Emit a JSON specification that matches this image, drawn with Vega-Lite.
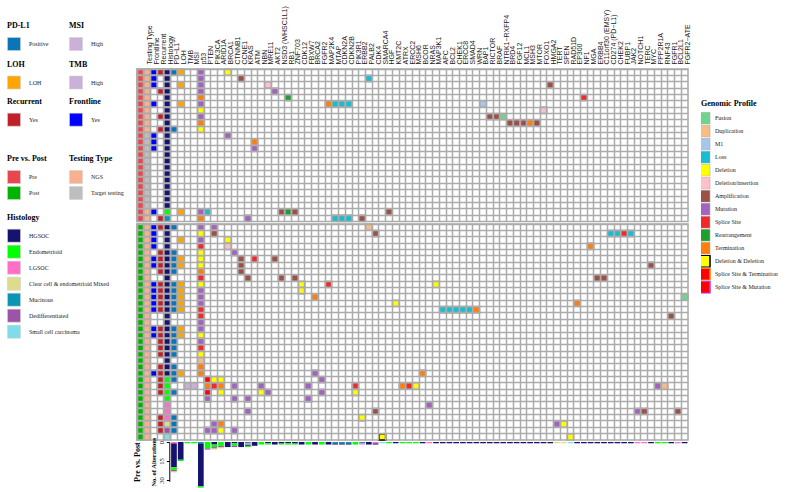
{
"$schema": "https://vega.github.io/schema/vega-lite/v6.json",
"padding": {"left": 6, "top": 4, "right": 2, "bottom": 0},
"bounds": "flush",
"spacing": 2,
"background": "white",
"config": {
  "view": {"stroke": "#ababab", "strokeWidth": 1.5},
  "legend": {"titleFont": "Liberation Serif", "titleFontWeight": "bold", "titleFontSize": 8, "titleColor": "#000", "labelFont": "Liberation Serif", "labelFontSize": 6, "labelColor": "#222", "symbolType": "square", "symbolSize": 169, "symbolStrokeColor": "#d0d0d0", "symbolStrokeWidth": 0.6, "rowPadding": 0, "labelOffset": 8, "titlePadding": 7, "orient": "none", "padding": 0, "direction": "vertical"}
},
"datasets": {
"pts": [
{"p":"P01","PrePost":"Pre","Testing Type":"NGS","Frontline":"Yes","Recurrent":"Yes","Histology":"HGSOC"},
{"p":"P02","PrePost":"Pre","Testing Type":"NGS","Frontline":"Yes","Histology":"HGSOC"},
{"p":"P03","PrePost":"Pre","Testing Type":"NGS","Frontline":"Yes","Histology":"HGSOC"},
{"p":"P04","PrePost":"Pre","Testing Type":"NGS","Recurrent":"Yes","Histology":"HGSOC"},
{"p":"P05","PrePost":"Pre","Testing Type":"NGS","Histology":"HGSOC"},
{"p":"P06","PrePost":"Pre","Testing Type":"NGS","Frontline":"Yes","Histology":"HGSOC"},
{"p":"P07","PrePost":"Pre","Testing Type":"NGS","Histology":"HGSOC"},
{"p":"P08","PrePost":"Pre","Testing Type":"NGS","Recurrent":"Yes","Histology":"HGSOC"},
{"p":"P09","PrePost":"Pre","Testing Type":"NGS","Histology":"HGSOC"},
{"p":"P10","PrePost":"Pre","Testing Type":"NGS","Recurrent":"Yes","Histology":"HGSOC"},
{"p":"P11","PrePost":"Pre","Testing Type":"Target testing","Frontline":"Yes","Histology":"HGSOC"},
{"p":"P12","PrePost":"Pre","Testing Type":"Target testing","Frontline":"Yes","Histology":"HGSOC"},
{"p":"P13","PrePost":"Pre","Testing Type":"Target testing","Frontline":"Yes","Histology":"HGSOC"},
{"p":"P14","PrePost":"Pre","Testing Type":"Target testing","Histology":"HGSOC"},
{"p":"P15","PrePost":"Pre","Testing Type":"Target testing","Histology":"HGSOC"},
{"p":"P16","PrePost":"Pre","Testing Type":"Target testing","Histology":"HGSOC"},
{"p":"P17","PrePost":"Pre","Testing Type":"Target testing","Histology":"HGSOC"},
{"p":"P18","PrePost":"Pre","Testing Type":"Target testing","Histology":"HGSOC"},
{"p":"P19","PrePost":"Pre","Testing Type":"Target testing","Histology":"HGSOC"},
{"p":"P20","PrePost":"Pre","Testing Type":"Target testing","Histology":"HGSOC"},
{"p":"P21","PrePost":"Pre","Testing Type":"Target testing","Histology":"HGSOC"},
{"p":"P22","PrePost":"Pre","Testing Type":"Target testing","Histology":"HGSOC"},
{"p":"P23","PrePost":"Pre","Testing Type":"NGS","Frontline":"Yes","Histology":"Endometrioid"},
{"p":"P24","PrePost":"Pre","Testing Type":"NGS","Recurrent":"Yes","Histology":"Mucinous"},
{"p":"Q01","PrePost":"Post","Testing Type":"NGS","Frontline":"Yes","Recurrent":"Yes","Histology":"HGSOC"},
{"p":"Q02","PrePost":"Post","Testing Type":"NGS","Frontline":"Yes","Histology":"HGSOC"},
{"p":"Q03","PrePost":"Post","Testing Type":"NGS","Frontline":"Yes","Histology":"HGSOC"},
{"p":"Q04","PrePost":"Post","Testing Type":"NGS","Frontline":"Yes","Histology":"HGSOC"},
{"p":"Q05","PrePost":"Post","Testing Type":"NGS","Recurrent":"Yes","Histology":"HGSOC"},
{"p":"Q06","PrePost":"Post","Testing Type":"NGS","Frontline":"Yes","Recurrent":"Yes","Histology":"HGSOC"},
{"p":"Q07","PrePost":"Post","Testing Type":"NGS","Frontline":"Yes","Recurrent":"Yes","Histology":"HGSOC"},
{"p":"Q08","PrePost":"Post","Testing Type":"NGS","Recurrent":"Yes","Histology":"HGSOC"},
{"p":"Q09","PrePost":"Post","Testing Type":"NGS","Histology":"HGSOC"},
{"p":"Q10","PrePost":"Post","Testing Type":"NGS","Frontline":"Yes","Recurrent":"Yes","Histology":"HGSOC"},
{"p":"Q11","PrePost":"Post","Testing Type":"NGS","Frontline":"Yes","Recurrent":"Yes","Histology":"HGSOC"},
{"p":"Q12","PrePost":"Post","Testing Type":"NGS","Frontline":"Yes","Recurrent":"Yes","Histology":"HGSOC"},
{"p":"Q13","PrePost":"Post","Testing Type":"NGS","Frontline":"Yes","Recurrent":"Yes","Histology":"HGSOC"},
{"p":"Q14","PrePost":"Post","Testing Type":"NGS","Frontline":"Yes","Recurrent":"Yes","Histology":"HGSOC"},
{"p":"Q15","PrePost":"Post","Testing Type":"NGS","Histology":"HGSOC"},
{"p":"Q16","PrePost":"Post","Testing Type":"NGS","Histology":"HGSOC"},
{"p":"Q17","PrePost":"Post","Testing Type":"NGS","Frontline":"Yes","Recurrent":"Yes","Histology":"HGSOC"},
{"p":"Q18","PrePost":"Post","Testing Type":"NGS","Frontline":"Yes","Recurrent":"Yes","Histology":"HGSOC"},
{"p":"Q19","PrePost":"Post","Testing Type":"NGS","Recurrent":"Yes","Histology":"HGSOC"},
{"p":"Q20","PrePost":"Post","Testing Type":"NGS","Recurrent":"Yes","Histology":"HGSOC"},
{"p":"Q21","PrePost":"Post","Testing Type":"NGS","Recurrent":"Yes","Histology":"HGSOC"},
{"p":"Q22","PrePost":"Post","Testing Type":"NGS","Histology":"HGSOC"},
{"p":"Q23","PrePost":"Post","Testing Type":"NGS","Recurrent":"Yes","Histology":"HGSOC"},
{"p":"Q24","PrePost":"Post","Testing Type":"NGS","Frontline":"Yes","Recurrent":"Yes","Histology":"HGSOC"},
{"p":"Q25","PrePost":"Post","Testing Type":"NGS","Recurrent":"Yes","Histology":"Endometrioid"},
{"p":"Q26","PrePost":"Post","Testing Type":"NGS","Recurrent":"Yes","Histology":"Endometrioid"},
{"p":"Q27","PrePost":"Post","Testing Type":"NGS","Recurrent":"Yes","Histology":"Endometrioid"},
{"p":"Q28","PrePost":"Post","Testing Type":"NGS","Histology":"Endometrioid"},
{"p":"Q29","PrePost":"Post","Testing Type":"NGS","Histology":"LGSOC"},
{"p":"Q30","PrePost":"Post","Testing Type":"NGS","Histology":"LGSOC"},
{"p":"Q31","PrePost":"Post","Testing Type":"NGS","Recurrent":"Yes","Histology":"LGSOC"},
{"p":"Q32","PrePost":"Post","Testing Type":"NGS","Recurrent":"Yes","Histology":"Clear cell & endometrioid Mixed"},
{"p":"Q33","PrePost":"Post","Testing Type":"NGS","Recurrent":"Yes","Histology":"Dedifferentiated"},
{"p":"Q34","PrePost":"Post","Testing Type":"NGS","Histology":"Small cell carcinoma"}
],
"alt": [
{"p":"P01","g":"PD−L1","t":"Positive"},{"p":"P01","g":"LOH","t":"LOH"},{"p":"P01","g":"p53","t":"Mutation"},{"p":"P01","g":"BRCA1","t":"Deletion"},
{"p":"P02","g":"p53","t":"Mutation"},{"p":"P02","g":"CCNE1","t":"Amplification"},{"p":"P02","g":"PALB2","t":"Loss"},
{"p":"P03","g":"LOH","t":"LOH"},{"p":"P03","g":"p53","t":"Mutation"},{"p":"P03","g":"MRE11","t":"Deletion/insertion"},{"p":"P03","g":"HMGA2","t":"Amplification"},
{"p":"P04","g":"p53","t":"Mutation"},{"p":"P04","g":"AKT2","t":"Mutation"},
{"p":"P05","g":"p53","t":"Termination"},{"p":"P05","g":"RB1","t":"Rearrangement"},{"p":"P05","g":"NF1","t":"Splice Site"},
{"p":"P06","g":"LOH","t":"LOH"},{"p":"P06","g":"p53","t":"Mutation"},{"p":"P06","g":"MAP2K4","t":"Termination"},{"p":"P06","g":"MTAP","t":"Loss"},{"p":"P06","g":"CDKN2A","t":"Loss"},{"p":"P06","g":"CDKN2B","t":"Loss"},{"p":"P06","g":"BAP1","t":"M1"},
{"p":"P07","g":"p53","t":"Deletion"},{"p":"P07","g":"FOXO1","t":"Deletion/insertion"},
{"p":"P08","g":"p53","t":"Mutation"},{"p":"P08","g":"RICTOR","t":"Amplification"},{"p":"P08","g":"BRAF","t":"Amplification"},{"p":"P08","g":"NTRK1−RXFP4","t":"Fusion"},
{"p":"P09","g":"p53","t":"Termination"},{"p":"P09","g":"BRD4","t":"Amplification"},{"p":"P09","g":"FGF12","t":"Amplification"},{"p":"P09","g":"MCL1","t":"Amplification"},{"p":"P09","g":"MSH3","t":"Termination"},{"p":"P09","g":"MTOR","t":"Amplification"},
{"p":"P10","g":"PD−L1","t":"Positive"},{"p":"P10","g":"p53","t":"Deletion"},
{"p":"P11","g":"BRCA1","t":"Mutation"},
{"p":"P12","g":"ATM","t":"Termination"},
{"p":"P13","g":"ATM","t":"Mutation"},
{"p":"P23","g":"LOH","t":"LOH"},{"p":"P23","g":"p53","t":"Mutation"},{"p":"P23","g":"PTEN","t":"Loss"},{"p":"P23","g":"NSD3 (WHSC1L1)","t":"Amplification"},{"p":"P23","g":"RB1","t":"Rearrangement"},{"p":"P23","g":"ZNF703","t":"Amplification"},{"p":"P23","g":"HGF","t":"Amplification"},
{"p":"P24","g":"p53","t":"Termination"},{"p":"P24","g":"KRAS","t":"Mutation"},{"p":"P24","g":"MTAP","t":"Loss"},{"p":"P24","g":"CDKN2A","t":"Loss"},{"p":"P24","g":"CDKN2B","t":"Loss"},{"p":"P24","g":"ERBB2","t":"Amplification"},
{"p":"Q01","g":"PD−L1","t":"Positive"},{"p":"Q01","g":"p53","t":"Mutation"},{"p":"Q01","g":"PIK3CA","t":"Mutation"},{"p":"Q01","g":"PALB2","t":"Duplication"},
{"p":"Q02","g":"p53","t":"Deletion"},{"p":"Q02","g":"PIK3CA","t":"Amplification"},{"p":"Q02","g":"CDK4","t":"Amplification"},{"p":"Q02","g":"CD274 (PD−L1)","t":"Loss"},{"p":"Q02","g":"CHEK2","t":"Loss"},{"p":"Q02","g":"FUBP1","t":"Splice Site"},{"p":"Q02","g":"JAK2","t":"Loss"},
{"p":"Q03","g":"LOH","t":"LOH"},{"p":"Q03","g":"p53","t":"Mutation"},{"p":"Q03","g":"BRCA1","t":"Deletion"},
{"p":"Q04","g":"p53","t":"Splice Site"},{"p":"Q04","g":"BRCA1","t":"Deletion/insertion"},{"p":"Q04","g":"MGA","t":"Termination"},
{"p":"Q05","g":"PD−L1","t":"Positive"},{"p":"Q05","g":"p53","t":"Deletion"},{"p":"Q05","g":"CTNNB1","t":"Mutation"},
{"p":"Q06","g":"PD−L1","t":"Positive"},{"p":"Q06","g":"LOH","t":"LOH"},{"p":"Q06","g":"p53","t":"Deletion"},{"p":"Q06","g":"CCNE1","t":"Amplification"},{"p":"Q06","g":"ATM","t":"Splice Site"},{"p":"Q06","g":"AKT2","t":"Amplification"},
{"p":"Q07","g":"PD−L1","t":"Positive"},{"p":"Q07","g":"LOH","t":"LOH"},{"p":"Q07","g":"p53","t":"Deletion"},{"p":"Q07","g":"CCNE1","t":"Amplification"},{"p":"Q07","g":"MYC","t":"Amplification"},
{"p":"Q08","g":"PD−L1","t":"Positive"},{"p":"Q08","g":"p53","t":"Termination"},{"p":"Q08","g":"CCNE1","t":"Amplification"},
{"p":"Q09","g":"p53","t":"Splice Site"},{"p":"Q09","g":"KRAS","t":"Amplification"},{"p":"Q09","g":"NSD3 (WHSC1L1)","t":"Amplification"},{"p":"Q09","g":"ZNF703","t":"Amplification"},{"p":"Q09","g":"ERBB4","t":"Amplification"},{"p":"Q09","g":"C11orf30 (EMSY)","t":"Amplification"},
{"p":"Q10","g":"PD−L1","t":"Positive"},{"p":"Q10","g":"LOH","t":"LOH"},{"p":"Q10","g":"p53","t":"Deletion"},{"p":"Q10","g":"CDK12","t":"Deletion"},{"p":"Q10","g":"MAP2K4","t":"Splice Site"},{"p":"Q10","g":"MAP3K1","t":"Deletion"},
{"p":"Q11","g":"PD−L1","t":"Positive"},{"p":"Q11","g":"LOH","t":"LOH"},{"p":"Q11","g":"p53","t":"Mutation"},{"p":"Q11","g":"CDK12","t":"Deletion"},
{"p":"Q12","g":"PD−L1","t":"Positive"},{"p":"Q12","g":"LOH","t":"LOH"},{"p":"Q12","g":"p53","t":"Mutation"},{"p":"Q12","g":"BRCA2","t":"Termination"},{"p":"Q12","g":"FGFR2−ATE","t":"Fusion"},
{"p":"Q13","g":"PD−L1","t":"Positive"},{"p":"Q13","g":"LOH","t":"LOH"},{"p":"Q13","g":"p53","t":"Mutation"},{"p":"Q13","g":"KMT2C","t":"Deletion"},{"p":"Q13","g":"EP300","t":"Termination"},
{"p":"Q14","g":"PD−L1","t":"Positive"},{"p":"Q14","g":"LOH","t":"LOH"},{"p":"Q14","g":"p53","t":"Splice Site"},{"p":"Q14","g":"APC","t":"Loss"},{"p":"Q14","g":"BCL2","t":"Loss"},{"p":"Q14","g":"CHEK1","t":"Loss"},{"p":"Q14","g":"ERCC8","t":"Loss"},{"p":"Q14","g":"SMAD4","t":"Loss"},{"p":"Q14","g":"WRN","t":"Termination"},
{"p":"Q15","g":"p53","t":"Splice Site"},{"p":"Q15","g":"FGFR1","t":"Amplification"},
{"p":"Q16","g":"p53","t":"Mutation"},
{"p":"Q17","g":"PD−L1","t":"Positive"},{"p":"Q17","g":"LOH","t":"LOH"},{"p":"Q17","g":"p53","t":"Mutation"},
{"p":"Q18","g":"PD−L1","t":"Positive"},{"p":"Q18","g":"LOH","t":"LOH"},{"p":"Q18","g":"p53","t":"Deletion"},
{"p":"Q19","g":"PD−L1","t":"Positive"},{"p":"Q19","g":"p53","t":"Mutation"},
{"p":"Q20","g":"PD−L1","t":"Positive"},{"p":"Q20","g":"p53","t":"Splice Site"},
{"p":"Q21","g":"PD−L1","t":"Positive"},{"p":"Q21","g":"p53","t":"Deletion"},
{"p":"Q22","g":"p53","t":"Duplication"},
{"p":"Q23","g":"PD−L1","t":"Positive"},{"p":"Q23","g":"p53","t":"Termination"},
{"p":"Q24","g":"PD−L1","t":"Positive"},{"p":"Q24","g":"LOH","t":"LOH"},{"p":"Q24","g":"p53","t":"Termination"},{"p":"Q24","g":"BRCA2","t":"Mutation"},{"p":"Q24","g":"BCOR","t":"Termination"},
{"p":"Q25","g":"PD−L1","t":"Positive"},{"p":"Q25","g":"PTEN","t":"Splice Site & Mutation"},{"p":"Q25","g":"PIK3CA","t":"Deletion"},{"p":"Q25","g":"ARID1A","t":"Deletion"},{"p":"Q25","g":"FGFR2","t":"Mutation"},
{"p":"Q26","g":"TMB","t":"High"},{"p":"Q26","g":"MSI","t":"High"},{"p":"Q26","g":"PTEN","t":"Termination"},{"p":"Q26","g":"PIK3CA","t":"Splice Site"},{"p":"Q26","g":"ARID1A","t":"Termination"},{"p":"Q26","g":"CTNNB1","t":"Mutation"},{"p":"Q26","g":"NBN","t":"Mutation"},{"p":"Q26","g":"FBXW7","t":"Mutation"},{"p":"Q26","g":"PIK3R1","t":"Splice Site"},{"p":"Q26","g":"ATRX","t":"Termination"},{"p":"Q26","g":"ERCC2","t":"Splice Site"},{"p":"Q26","g":"MSH6","t":"Deletion"},{"p":"Q26","g":"PPP2R1A","t":"Mutation"},{"p":"Q26","g":"RNF43","t":"Duplication"},
{"p":"Q27","g":"PD−L1","t":"Positive"},{"p":"Q27","g":"PTEN","t":"Splice Site & Mutation"},{"p":"Q27","g":"ARID1A","t":"Deletion"},{"p":"Q27","g":"NBN","t":"Deletion"},{"p":"Q27","g":"MRE11","t":"Mutation"},{"p":"Q27","g":"FGFR2","t":"Mutation"},{"p":"Q27","g":"PIK3R1","t":"Deletion"},
{"p":"Q28","g":"PTEN","t":"Mutation"},{"p":"Q28","g":"CTNNB1","t":"Mutation"},{"p":"Q28","g":"KRAS","t":"Mutation"},{"p":"Q28","g":"FBXW7","t":"Mutation"},
{"p":"Q29","g":"NRAS","t":"Mutation"},
{"p":"Q30","g":"KRAS","t":"Mutation"},{"p":"Q30","g":"CDK4","t":"Amplification"},{"p":"Q30","g":"NOTCH1","t":"Mutation"},{"p":"Q30","g":"TERC","t":"Amplification"},{"p":"Q30","g":"BCL2L1","t":"Amplification"},
{"p":"Q31","g":"PD−L1","t":"Positive"},{"p":"Q31","g":"ERBB2","t":"Deletion"},
{"p":"Q32","g":"PD−L1","t":"Positive"},{"p":"Q32","g":"PIK3CA","t":"Mutation"},{"p":"Q32","g":"ARID1A","t":"Termination"},{"p":"Q32","g":"TERT","t":"Mutation"},{"p":"Q32","g":"SPEN","t":"Deletion"},
{"p":"Q33","g":"PD−L1","t":"Positive"},{"p":"Q33","g":"PTEN","t":"Mutation"},{"p":"Q33","g":"PIK3CA","t":"Mutation"},{"p":"Q33","g":"ARID1A","t":"Deletion"},{"p":"Q33","g":"CTNNB1","t":"Mutation"},
{"p":"Q34","g":"SMARCA4","t":"Deletion & Deletion"},{"p":"Q34","g":"RAD51D","t":"Deletion"}
]
},
"vconcat": [
{
 "width": 551, "height": 152.4,
 "encoding": {
  "x": {"field": "g", "type": "nominal", "scale": {"domain": ["PrePost","Testing Type","Frontline","Recurrent","Histology","PD−L1","LOH","TMB","MSI","p53","PTEN","PIK3CA","ARID1A","BRCA1","CTNNB1","CCNE1","KRAS","ATM","NBN","MRE11","AKT2","NSD3 (WHSC1L1)","RB1","ZNF703","CDK12","FBXW7","BRCA2","FGFR2","MAP2K4","MTAP","CDKN2A","CDKN2B","PIK3R1","ERBB2","PALB2","CDK4","SMARCA4","HGF","KMT2C","ATRX","ERCC2","MSH6","BCOR","NRAS","MAP3K1","APC","BCL2","CHEK1","ERCC8","SMAD4","WRN","BAP1","RICTOR","BRAF","NTRK1−RXFP4","BRD4","FGF12","MCL1","MSH3","MTOR","FOXO1","HMGA2","TERT","SPEN","RAD51D","EP300","NF1","MGA","ERBB4","C11orf30 (EMSY)","CD274 (PD−L1)","CHEK2","FUBP1","JAK2","NOTCH1","TERC","MYC","PPP2R1A","RNF43","FGFR1","BCL2L1","FGFR2−ATE"], "paddingInner": 0, "paddingOuter": 0},
   "axis": {"orient": "top", "title": null, "labelAngle": -90, "labelFont": "Liberation Sans", "labelFontSize": 7, "labelColor": "#222", "labelPadding": 5, "labelOffset": 3.36, "labelOverlap": false, "labelBound": false, "labelFlush": false, "ticks": false, "domain": false, "grid": true, "gridColor": "#ababab", "gridWidth": 1.5, "bandPosition": 0, "labelExpr": "datum.value == 'PrePost' ? '' : datum.value"}},
  "y": {"field": "p", "type": "ordinal", "axis": {"title": null, "labels": false, "ticks": false, "domain": false, "grid": true, "gridColor": "#ababab", "gridWidth": 1.5, "bandPosition": 0}}
 },
 "layer": [
  {"data": {"name": "pts"}, "transform": [{"filter": "datum.PrePost == 'Pre'"}, {"fold": ["PrePost","Testing Type","Frontline","Recurrent","Histology"], "as": ["g","t"]}, {"filter": "datum.g == 'PrePost' && isValid(datum.t)"}],
   "mark": {"type": "rect", "stroke": "#ababab", "strokeWidth": 1.5},
   "encoding": {"fill": {"field": "t", "type": "nominal", "scale": {"domain": ["Pre","Post"], "range": ["#E8484D","#00B400"]}, "legend": {"title": "Pre vs. Post", "legendX": -130, "legendY": 86}}}},
  {"data": {"name": "pts"}, "transform": [{"filter": "datum.PrePost == 'Pre'"}, {"fold": ["PrePost","Testing Type","Frontline","Recurrent","Histology"], "as": ["g","t"]}, {"filter": "datum.g == 'Testing Type' && isValid(datum.t)"}],
   "mark": {"type": "rect", "stroke": "#ababab", "strokeWidth": 1.5},
   "encoding": {"fill": {"field": "t", "type": "nominal", "scale": {"domain": ["NGS","Target testing"], "range": ["#F9B08F","#BEBEBE"]}, "legend": {"title": "Testing Type", "legendX": -68, "legendY": 86}}}},
  {"data": {"name": "pts"}, "transform": [{"filter": "datum.PrePost == 'Pre'"}, {"fold": ["PrePost","Testing Type","Frontline","Recurrent","Histology"], "as": ["g","t"]}, {"filter": "datum.g == 'Frontline' && isValid(datum.t)"}],
   "mark": {"type": "rect", "stroke": "#ababab", "strokeWidth": 1.5},
   "encoding": {"fill": {"field": "t", "type": "nominal", "scale": {"domain": ["Yes"], "range": ["#0000FF"]}, "legend": {"title": "Frontline", "legendX": -68, "legendY": 28.7}}}},
  {"data": {"name": "pts"}, "transform": [{"filter": "datum.PrePost == 'Pre'"}, {"fold": ["PrePost","Testing Type","Frontline","Recurrent","Histology"], "as": ["g","t"]}, {"filter": "datum.g == 'Recurrent' && isValid(datum.t)"}],
   "mark": {"type": "rect", "stroke": "#ababab", "strokeWidth": 1.5},
   "encoding": {"fill": {"field": "t", "type": "nominal", "scale": {"domain": ["Yes"], "range": ["#C0202A"]}, "legend": {"title": "Recurrent", "legendX": -130, "legendY": 28.7}}}},
  {"data": {"name": "pts"}, "transform": [{"filter": "datum.PrePost == 'Pre'"}, {"fold": ["PrePost","Testing Type","Frontline","Recurrent","Histology"], "as": ["g","t"]}, {"filter": "datum.g == 'Histology' && isValid(datum.t)"}],
   "mark": {"type": "rect", "stroke": "#ababab", "strokeWidth": 1.5},
   "encoding": {"fill": {"field": "t", "type": "nominal", "scale": {"domain": ["HGSOC","Endometrioid","LGSOC","Clear cell & endometrioid Mixed","Mucinous","Dedifferentiated","Small cell carcinoma"], "range": ["#15136F","#00FF00","#FF6EC7","#DCDC8C","#0A95B4","#9C55A6","#7FDCE8"]}, "legend": {"title": "Histology", "legendX": -130, "legendY": 144.7}}}},
  {"data": {"name": "alt"}, "transform": [{"lookup": "p", "from": {"data": {"name": "pts"}, "key": "p", "fields": ["PrePost"]}}, {"filter": "datum.PrePost == 'Pre' && datum.g == 'PD−L1'"}],
   "mark": {"type": "rect", "stroke": "#ababab", "strokeWidth": 1.5},
   "encoding": {"fill": {"field": "t", "type": "nominal", "scale": {"domain": ["Positive"], "range": ["#0A75B8"]}, "legend": {"title": "PD-L1", "legendX": -130, "legendY": -47}}}},
  {"data": {"name": "alt"}, "transform": [{"lookup": "p", "from": {"data": {"name": "pts"}, "key": "p", "fields": ["PrePost"]}}, {"filter": "datum.PrePost == 'Pre' && datum.g == 'LOH'"}],
   "mark": {"type": "rect", "stroke": "#ababab", "strokeWidth": 1.5},
   "encoding": {"fill": {"field": "t", "type": "nominal", "scale": {"domain": ["LOH"], "range": ["#FFA500"]}, "legend": {"title": "LOH", "legendX": -130, "legendY": -8.5}}}},
  {"data": {"name": "alt"}, "transform": [{"lookup": "p", "from": {"data": {"name": "pts"}, "key": "p", "fields": ["PrePost"]}}, {"filter": "datum.PrePost == 'Pre' && datum.g == 'TMB'"}],
   "mark": {"type": "rect", "stroke": "#ababab", "strokeWidth": 1.5},
   "encoding": {"fill": {"field": "t", "type": "nominal", "scale": {"domain": ["High"], "range": ["#CBB1D9"]}, "legend": {"title": "TMB", "legendX": -68, "legendY": -8.5}}}},
  {"data": {"name": "alt"}, "transform": [{"lookup": "p", "from": {"data": {"name": "pts"}, "key": "p", "fields": ["PrePost"]}}, {"filter": "datum.PrePost == 'Pre' && datum.g == 'MSI'"}],
   "mark": {"type": "rect", "stroke": "#ababab", "strokeWidth": 1.5},
   "encoding": {"fill": {"field": "t", "type": "nominal", "scale": {"domain": ["High"], "range": ["#CBB1D9"]}, "legend": {"title": "MSI", "legendX": -68, "legendY": -47}}}},
  {"data": {"name": "alt"}, "transform": [{"lookup": "p", "from": {"data": {"name": "pts"}, "key": "p", "fields": ["PrePost"]}}, {"filter": "datum.PrePost == 'Pre' && indexof(['PD−L1','LOH','TMB','MSI'], datum.g) < 0"}],
   "mark": {"type": "rect", "strokeWidth": 1.5},
   "encoding": {
    "fill": {"field": "t", "type": "nominal", "scale": {"domain": ["Fusion","Duplication","M1","Loss","Deletion","Deletion/insertion","Amplification","Mutation","Splice Site","Rearrangement","Termination","Deletion & Deletion","Splice Site & Termination","Splice Site & Mutation"], "range": ["#6ED68C","#F9BC84","#A7C7EA","#17BECF","#FFFF00","#FFC0CB","#9C5048","#A262C0","#F02A2A","#1FA02C","#FF7F0E","#FFFF00","#FF0000","#FF0000"]},
      "legend": {"title": "Genomic Profile", "legendX": 564, "legendY": 31, "titlePadding": 4, "symbolSize": 144, "clipHeight": 12.4,
        "encode": {"symbols": {"update": {
          "stroke": {"signal": "datum.value == 'Deletion & Deletion' ? '#000000' : datum.value == 'Splice Site & Termination' ? '#FF7F0E' : datum.value == 'Splice Site & Mutation' ? '#B23BFF' : '#d0d0d0'"},
          "strokeWidth": {"signal": "indexof(['Deletion & Deletion','Splice Site & Termination','Splice Site & Mutation'], datum.value) >= 0 ? 1.6 : 0.6"}}}}}},
    "stroke": {"field": "t", "type": "nominal", "scale": {"domain": ["Fusion","Duplication","M1","Loss","Deletion","Deletion/insertion","Amplification","Mutation","Splice Site","Rearrangement","Termination","Deletion & Deletion","Splice Site & Termination","Splice Site & Mutation"], "range": ["#ababab","#ababab","#ababab","#ababab","#ababab","#ababab","#ababab","#ababab","#ababab","#ababab","#ababab","#000000","#FF7F0E","#B23BFF"]}, "legend": null}
   }}
 ],
 "resolve": {"scale": {"fill": "independent", "stroke": "independent"}}
},
{
 "width": 551, "height": 216,
 "encoding": {
  "x": {"field": "g", "type": "nominal", "scale": {"domain": ["PrePost","Testing Type","Frontline","Recurrent","Histology","PD−L1","LOH","TMB","MSI","p53","PTEN","PIK3CA","ARID1A","BRCA1","CTNNB1","CCNE1","KRAS","ATM","NBN","MRE11","AKT2","NSD3 (WHSC1L1)","RB1","ZNF703","CDK12","FBXW7","BRCA2","FGFR2","MAP2K4","MTAP","CDKN2A","CDKN2B","PIK3R1","ERBB2","PALB2","CDK4","SMARCA4","HGF","KMT2C","ATRX","ERCC2","MSH6","BCOR","NRAS","MAP3K1","APC","BCL2","CHEK1","ERCC8","SMAD4","WRN","BAP1","RICTOR","BRAF","NTRK1−RXFP4","BRD4","FGF12","MCL1","MSH3","MTOR","FOXO1","HMGA2","TERT","SPEN","RAD51D","EP300","NF1","MGA","ERBB4","C11orf30 (EMSY)","CD274 (PD−L1)","CHEK2","FUBP1","JAK2","NOTCH1","TERC","MYC","PPP2R1A","RNF43","FGFR1","BCL2L1","FGFR2−ATE"], "paddingInner": 0, "paddingOuter": 0},
   "axis": {"orient": "top", "title": null, "labels": false, "ticks": false, "domain": false, "grid": true, "gridColor": "#ababab", "gridWidth": 1.5, "bandPosition": 0}},
  "y": {"field": "p", "type": "ordinal", "axis": {"title": null, "labels": false, "ticks": false, "domain": false, "grid": true, "gridColor": "#ababab", "gridWidth": 1.5, "bandPosition": 0}}
 },
 "layer": [
  {"data": {"name": "pts"}, "transform": [{"filter": "datum.PrePost == 'Post'"}, {"fold": ["PrePost","Testing Type","Frontline","Recurrent","Histology"], "as": ["g","t"]}, {"filter": "datum.g == 'PrePost' && isValid(datum.t)"}],
   "mark": {"type": "rect", "stroke": "#ababab", "strokeWidth": 1.5},
   "encoding": {"fill": {"field": "t", "type": "nominal", "scale": {"domain": ["Pre","Post"], "range": ["#E8484D","#00B400"]}, "legend": null}}},
  {"data": {"name": "pts"}, "transform": [{"filter": "datum.PrePost == 'Post'"}, {"fold": ["PrePost","Testing Type","Frontline","Recurrent","Histology"], "as": ["g","t"]}, {"filter": "datum.g == 'Testing Type' && isValid(datum.t)"}],
   "mark": {"type": "rect", "stroke": "#ababab", "strokeWidth": 1.5},
   "encoding": {"fill": {"field": "t", "type": "nominal", "scale": {"domain": ["NGS","Target testing"], "range": ["#F9B08F","#BEBEBE"]}, "legend": null}}},
  {"data": {"name": "pts"}, "transform": [{"filter": "datum.PrePost == 'Post'"}, {"fold": ["PrePost","Testing Type","Frontline","Recurrent","Histology"], "as": ["g","t"]}, {"filter": "datum.g == 'Frontline' && isValid(datum.t)"}],
   "mark": {"type": "rect", "stroke": "#ababab", "strokeWidth": 1.5},
   "encoding": {"fill": {"field": "t", "type": "nominal", "scale": {"domain": ["Yes"], "range": ["#0000FF"]}, "legend": null}}},
  {"data": {"name": "pts"}, "transform": [{"filter": "datum.PrePost == 'Post'"}, {"fold": ["PrePost","Testing Type","Frontline","Recurrent","Histology"], "as": ["g","t"]}, {"filter": "datum.g == 'Recurrent' && isValid(datum.t)"}],
   "mark": {"type": "rect", "stroke": "#ababab", "strokeWidth": 1.5},
   "encoding": {"fill": {"field": "t", "type": "nominal", "scale": {"domain": ["Yes"], "range": ["#C0202A"]}, "legend": null}}},
  {"data": {"name": "pts"}, "transform": [{"filter": "datum.PrePost == 'Post'"}, {"fold": ["PrePost","Testing Type","Frontline","Recurrent","Histology"], "as": ["g","t"]}, {"filter": "datum.g == 'Histology' && isValid(datum.t)"}],
   "mark": {"type": "rect", "stroke": "#ababab", "strokeWidth": 1.5},
   "encoding": {"fill": {"field": "t", "type": "nominal", "scale": {"domain": ["HGSOC","Endometrioid","LGSOC","Clear cell & endometrioid Mixed","Mucinous","Dedifferentiated","Small cell carcinoma"], "range": ["#15136F","#00FF00","#FF6EC7","#DCDC8C","#0A95B4","#9C55A6","#7FDCE8"]}, "legend": null}}},
  {"data": {"name": "alt"}, "transform": [{"lookup": "p", "from": {"data": {"name": "pts"}, "key": "p", "fields": ["PrePost"]}}, {"filter": "datum.PrePost == 'Post' && datum.g == 'PD−L1'"}],
   "mark": {"type": "rect", "stroke": "#ababab", "strokeWidth": 1.5},
   "encoding": {"fill": {"field": "t", "type": "nominal", "scale": {"domain": ["Positive"], "range": ["#0A75B8"]}, "legend": null}}},
  {"data": {"name": "alt"}, "transform": [{"lookup": "p", "from": {"data": {"name": "pts"}, "key": "p", "fields": ["PrePost"]}}, {"filter": "datum.PrePost == 'Post' && datum.g == 'LOH'"}],
   "mark": {"type": "rect", "stroke": "#ababab", "strokeWidth": 1.5},
   "encoding": {"fill": {"field": "t", "type": "nominal", "scale": {"domain": ["LOH"], "range": ["#FFA500"]}, "legend": null}}},
  {"data": {"name": "alt"}, "transform": [{"lookup": "p", "from": {"data": {"name": "pts"}, "key": "p", "fields": ["PrePost"]}}, {"filter": "datum.PrePost == 'Post' && datum.g == 'TMB'"}],
   "mark": {"type": "rect", "stroke": "#ababab", "strokeWidth": 1.5},
   "encoding": {"fill": {"field": "t", "type": "nominal", "scale": {"domain": ["High"], "range": ["#CBB1D9"]}, "legend": null}}},
  {"data": {"name": "alt"}, "transform": [{"lookup": "p", "from": {"data": {"name": "pts"}, "key": "p", "fields": ["PrePost"]}}, {"filter": "datum.PrePost == 'Post' && datum.g == 'MSI'"}],
   "mark": {"type": "rect", "stroke": "#ababab", "strokeWidth": 1.5},
   "encoding": {"fill": {"field": "t", "type": "nominal", "scale": {"domain": ["High"], "range": ["#CBB1D9"]}, "legend": null}}},
  {"data": {"name": "alt"}, "transform": [{"lookup": "p", "from": {"data": {"name": "pts"}, "key": "p", "fields": ["PrePost"]}}, {"filter": "datum.PrePost == 'Post' && indexof(['PD−L1','LOH','TMB','MSI'], datum.g) < 0"}],
   "mark": {"type": "rect", "strokeWidth": 1.5},
   "encoding": {
    "fill": {"field": "t", "type": "nominal", "scale": {"domain": ["Fusion","Duplication","M1","Loss","Deletion","Deletion/insertion","Amplification","Mutation","Splice Site","Rearrangement","Termination","Deletion & Deletion","Splice Site & Termination","Splice Site & Mutation"], "range": ["#6ED68C","#F9BC84","#A7C7EA","#17BECF","#FFFF00","#FFC0CB","#9C5048","#A262C0","#F02A2A","#1FA02C","#FF7F0E","#FFFF00","#FF0000","#FF0000"]}, "legend": null},
    "stroke": {"field": "t", "type": "nominal", "scale": {"domain": ["Fusion","Duplication","M1","Loss","Deletion","Deletion/insertion","Amplification","Mutation","Splice Site","Rearrangement","Termination","Deletion & Deletion","Splice Site & Termination","Splice Site & Mutation"], "range": ["#ababab","#ababab","#ababab","#ababab","#ababab","#ababab","#ababab","#ababab","#ababab","#ababab","#ababab","#000000","#FF7F0E","#B23BFF"]}, "legend": null}
   }}
 ],
 "resolve": {"scale": {"fill": "independent", "stroke": "independent"}}
},
{
 "width": 551, "height": 39.3,
 "view": {"stroke": null},
 "data": {"name": "alt"},
 "transform": [{"lookup": "p", "from": {"data": {"name": "pts"}, "key": "p", "fields": ["Histology"]}}],
 "layer": [
  {"mark": {"type": "bar"},
   "encoding": {
    "x": {"field": "g", "type": "nominal", "scale": {"domain": ["PrePost","Testing Type","Frontline","Recurrent","Histology","PD−L1","LOH","TMB","MSI","p53","PTEN","PIK3CA","ARID1A","BRCA1","CTNNB1","CCNE1","KRAS","ATM","NBN","MRE11","AKT2","NSD3 (WHSC1L1)","RB1","ZNF703","CDK12","FBXW7","BRCA2","FGFR2","MAP2K4","MTAP","CDKN2A","CDKN2B","PIK3R1","ERBB2","PALB2","CDK4","SMARCA4","HGF","KMT2C","ATRX","ERCC2","MSH6","BCOR","NRAS","MAP3K1","APC","BCL2","CHEK1","ERCC8","SMAD4","WRN","BAP1","RICTOR","BRAF","NTRK1−RXFP4","BRD4","FGF12","MCL1","MSH3","MTOR","FOXO1","HMGA2","TERT","SPEN","RAD51D","EP300","NF1","MGA","ERBB4","C11orf30 (EMSY)","CD274 (PD−L1)","CHEK2","FUBP1","JAK2","NOTCH1","TERC","MYC","PPP2R1A","RNF43","FGFR1","BCL2L1","FGFR2−ATE"], "paddingInner": 0.15, "paddingOuter": 0.075}, "axis": null},
    "y": {"aggregate": "count", "type": "quantitative", "scale": {"domain": [0, 31], "nice": false, "reverse": true},
      "axis": {"orient": "left", "offset": -32.3, "values": [0, 15, 30], "title": "No. of Alterations", "titleFont": "Liberation Serif", "titleFontWeight": "bold", "titleFontSize": 6.5, "titleColor": "#000", "titlePadding": 2, "labelFont": "Liberation Serif", "labelFontSize": 6.5, "labelColor": "#000", "labelAngle": -90, "tickSize": 3, "tickColor": "#000", "domainColor": "#000", "grid": false}},
    "fill": {"field": "Histology", "type": "nominal", "sort": ["HGSOC","Endometrioid","LGSOC","Clear cell & endometrioid Mixed","Mucinous","Dedifferentiated","Small cell carcinoma"], "scale": {"domain": ["HGSOC","Endometrioid","LGSOC","Clear cell & endometrioid Mixed","Mucinous","Dedifferentiated","Small cell carcinoma"], "range": ["#15136F","#00FF00","#FF6EC7","#DCDC8C","#0A95B4","#9C55A6","#7FDCE8"]}, "legend": null}
   }},
  {"mark": {"type": "rule", "strokeOpacity": 0},
   "encoding": {"y": {"datum": 0, "type": "quantitative", "axis": {"orient": "left", "offset": -4.5, "title": "Pre vs. Post", "labels": false, "ticks": false, "domain": false, "grid": false, "titleFont": "Liberation Serif", "titleFontWeight": "bold", "titleFontSize": 8, "titleColor": "#000", "titlePadding": 0}}}}
 ],
 "resolve": {"axis": {"y": "independent"}}
}
],
"resolve": {"scale": {"x": "independent", "y": "independent", "fill": "independent", "stroke": "independent"}}
}
